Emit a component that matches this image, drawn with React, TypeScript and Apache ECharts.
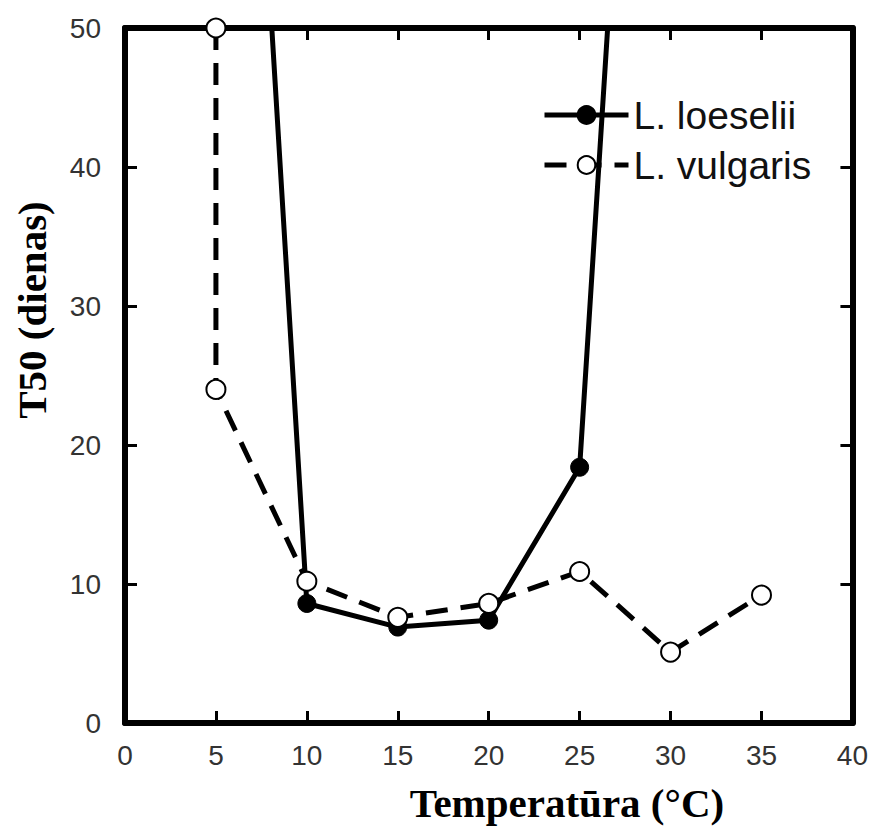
import React, { useEffect, useRef } from "react";
import * as echarts from "echarts";

const xTicks = [0, 5, 10, 15, 20, 25, 30, 35, 40];
const yTicks = [0, 10, 20, 30, 40, 50];

// L. loeselii (filled circles, solid). Values at 5 and 30 °C are off the top of the chart.
const loeseliiX = [5, 10, 15, 20, 25, 30];
const loeseliiY = [116, 8.6, 6.9, 7.4, 18.4, 121];

// L. vulgaris (open circles, dashed)
const vulgarisX = [5, 5, 10, 15, 20, 25, 30, 35];
const vulgarisY = [50, 24, 10.2, 7.6, 8.6, 10.9, 5.1, 9.2];

const seriesNames = ["L. loeselii", "L. vulgaris"];
const xTitle = "Temperatūra (°C)";
const yTitle = "T50 (dienas)";

export default function App() {
  const ref = useRef<HTMLDivElement>(null);
  useEffect(() => {
    if (!ref.current) return;
    const chart = echarts.init(ref.current, null, { renderer: "svg" });
    const axisCommon = {
      type: "value" as const,
      splitLine: { show: false },
      axisLine: { show: true, onZero: false, lineStyle: { color: "#000", width: 6 } },
      axisTick: { show: true, inside: true, length: 12, lineStyle: { color: "#000", width: 3 } },
    };
    chart.setOption({
      animation: false,
      backgroundColor: "#fff",
      grid: { left: 125, right: 18, top: 28, bottom: 104, containLabel: false },
      legend: {
        left: 542,
        top: 95,
        padding: 0,
        orient: "vertical",
        itemWidth: 84,
        itemHeight: 22,
        itemGap: 10,
        lineStyle: { width: 5 },
        textStyle: { fontFamily: "Liberation Sans", fontSize: 39, color: "#111", lineHeight: 40 },
        data: seriesNames,
      },
      xAxis: [
        {
          ...axisCommon,
          position: "bottom",
          min: 0,
          max: 40,
          interval: 5,
          axisLabel: { fontFamily: "Liberation Sans", fontSize: 28, color: "#333", margin: 18 },
        },
        {
          ...axisCommon,
          position: "top",
          min: 0,
          max: 40,
          interval: 5,
          axisLabel: { show: false },
        },
      ],
      yAxis: [
        {
          ...axisCommon,
          position: "left",
          min: 0,
          max: 50,
          interval: 10,
          axisLabel: { fontFamily: "Liberation Sans", fontSize: 28, color: "#333", margin: 24 },
        },
        {
          ...axisCommon,
          position: "right",
          min: 0,
          max: 50,
          interval: 10,
          axisLabel: { show: false },
        },
      ],
      graphic: [
        {
          type: "text",
          x: 567,
          y: 803,
          style: {
            text: xTitle,
            fontFamily: "Liberation Serif",
            fontWeight: "bold",
            fontSize: 41,
            fill: "#000",
            textAlign: "center",
            textVerticalAlign: "middle",
          },
        },
        {
          type: "text",
          x: 32,
          y: 310,
          rotation: Math.PI / 2,
          style: {
            text: yTitle,
            fontFamily: "Liberation Serif",
            fontWeight: "bold",
            fontSize: 41,
            fill: "#000",
            textAlign: "center",
            textVerticalAlign: "middle",
          },
        },
      ],
      series: [
        {
          name: seriesNames[0],
          type: "line",
          clip: true,
          data: loeseliiX.map((x, i) => [x, loeseliiY[i]]),
          symbol: "circle",
          symbolSize: 18,
          lineStyle: { color: "#000", width: 5 },
          itemStyle: { color: "#000", borderColor: "#000", borderWidth: 1 },
          z: 3,
        },
        {
          name: seriesNames[1],
          type: "line",
          clip: false,
          data: vulgarisX.map((x, i) => [x, vulgarisY[i]]),
          symbol: "circle",
          symbolSize: 19,
          showAllSymbol: true,
          lineStyle: { color: "#000", width: 5, type: [22, 13] },
          itemStyle: { color: "#fff", borderColor: "#000", borderWidth: 2 },
          z: 4,
        },
      ],
    });
    return () => chart.dispose();
  }, []);
  return <div ref={ref} style={{ width: 871, height: 827, position: "absolute", left: 0, top: 0 }} />;
}
